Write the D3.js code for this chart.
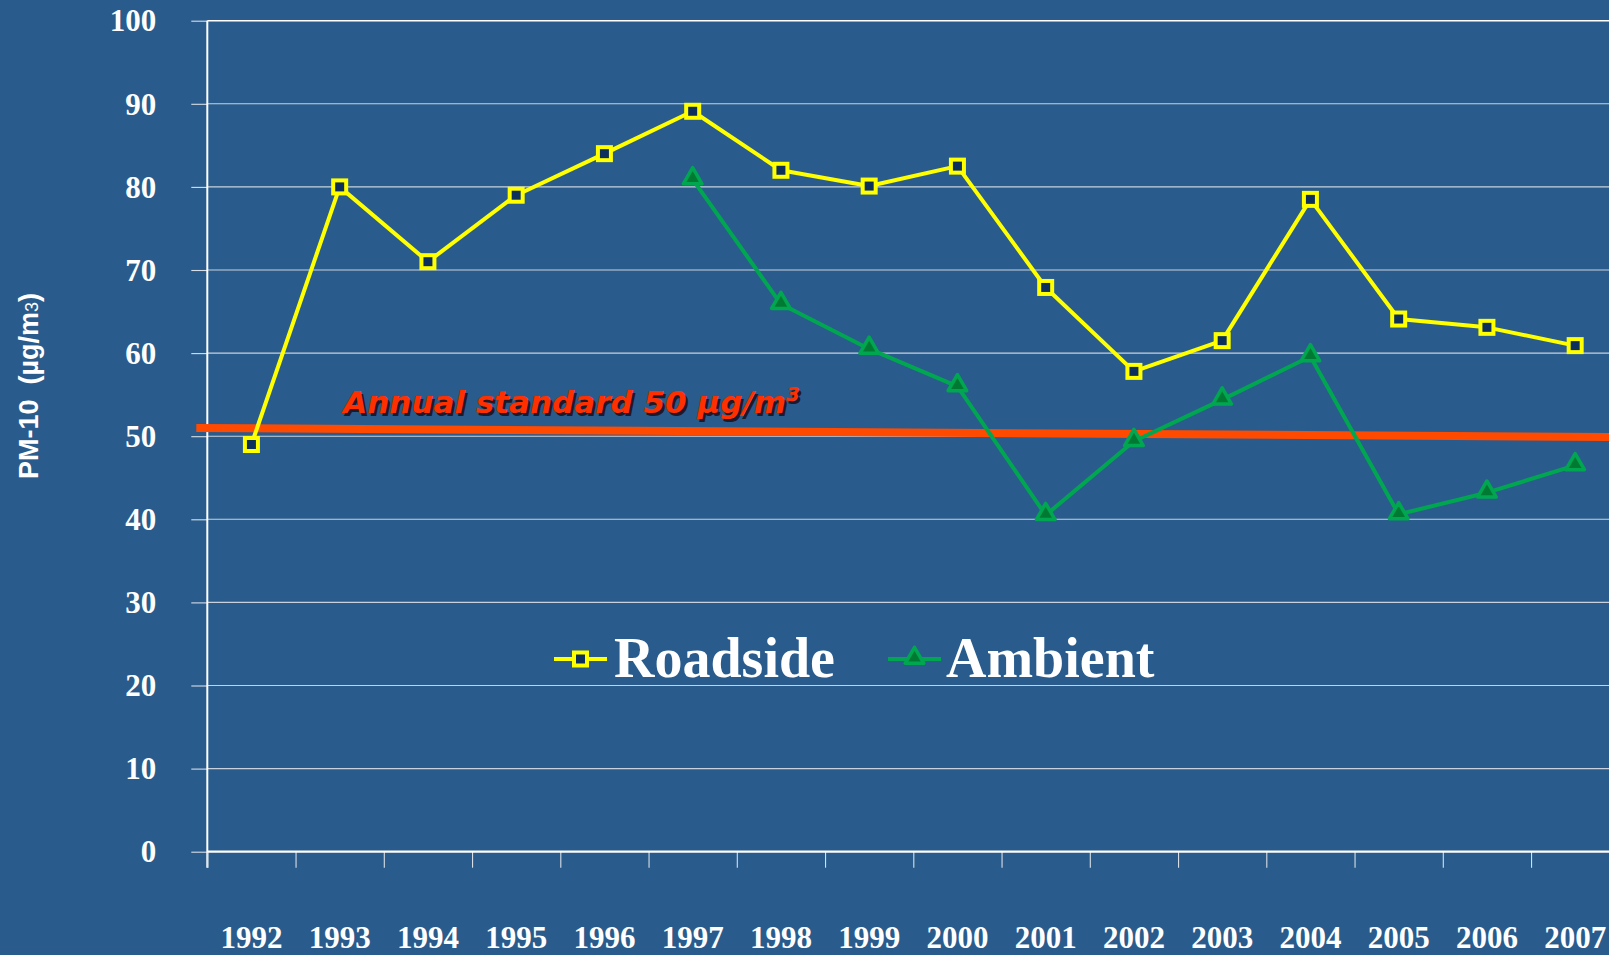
<!DOCTYPE html>
<html>
<head>
<meta charset="utf-8">
<script src="https://cdn.jsdelivr.net/npm/d3@7"></script>
<style>
  html, body { margin: 0; padding: 0; background: #295c8d; }
  svg { display: block; }
</style>
</head>
<body>
<svg id="chart"></svg>
<script>
var width = 1609;
var height = 955;

var years = [1992, 1993, 1994, 1995, 1996, 1997, 1998, 1999, 2000, 2001, 2002, 2003, 2004, 2005, 2006, 2007];
var roadside = [49.0, 80.0, 71.0, 79.0, 84.0, 89.1, 82.0, 80.1, 82.5, 67.9, 57.8, 61.5, 78.5, 64.1, 63.1, 60.9];
var ambient = [null, null, null, null, null, 80.9, 65.9, 60.5, 56.0, 40.5, 49.4, 54.4, 59.6, 40.6, 43.2, 46.5];
var yTicks = [0, 10, 20, 30, 40, 50, 60, 70, 80, 90, 100];
// the standard line in the original is drawn by hand and drifts a little
var standardEnds = [51.0, 49.9];
var standardLabel = "Annual standard 50 µg/m";

var series = [
  {name: "Roadside", values: roadside, color: "#ffff00", marker: "square"},
  {name: "Ambient", values: ambient, color: "#00a650", marker: "triangle"}
];

var svg = d3.select("#chart").attr("width", width).attr("height", height);

svg.append("rect").attr("width", width).attr("height", height).attr("fill", "#295c8d");

// plot runs off the right edge of the slide, as in the original
var x = d3.scaleBand().domain(years).range([207.3, 1619.3]).paddingInner(0).paddingOuter(0);
var xEdge = d3.scaleLinear().domain([0, years.length]).range([207.3, 1619.3]);
var y = d3.scaleLinear().domain([0, 100]).range([851.7, 20.7]);

// gridlines
svg.append("g")
  .selectAll("line")
  .data(yTicks.filter(function(d) { return d > 0; }))
  .enter().append("line")
    .attr("x1", 207.3)
    .attr("x2", width)
    .attr("y1", function(d) { return y(d); })
    .attr("y2", function(d) { return y(d); })
    .attr("stroke", function(d) { return d == 100 ? "#ffffff" : "#c9d2dc"; })
    .attr("stroke-width", function(d) { return d == 100 ? 1.6 : 1.1; });

// y axis
var yAxis = svg.append("g")
  .attr("transform", "translate(207.3,0)")
  .call(d3.axisLeft(y).tickValues(yTicks).tickSizeInner(16).tickSizeOuter(0).tickPadding(35));
yAxis.select(".domain").remove();
yAxis.selectAll(".tick line").attr("stroke", "#d8dee6").attr("stroke-width", 1.1);
yAxis.selectAll(".tick text")
  .attr("fill", "#ffffff")
  .attr("font-family", "'Liberation Serif', 'Times New Roman', serif")
  .attr("font-weight", "bold")
  .attr("font-size", 31)
  .attr("dy", "0.33em");

svg.append("line")
  .attr("x1", 207.3).attr("x2", 207.3)
  .attr("y1", y(100)).attr("y2", y(0) + 16)
  .attr("stroke", "#ffffff").attr("stroke-width", 2);

// x axis: ticks on category edges, labels in the middle
var xTickAxis = svg.append("g")
  .attr("transform", "translate(0," + y(0) + ")")
  .call(d3.axisBottom(xEdge).tickValues(d3.range(0, years.length + 1)).tickFormat("").tickSizeInner(16).tickSizeOuter(0));
xTickAxis.select(".domain").remove();
xTickAxis.selectAll(".tick line").attr("stroke", "#d8dee6").attr("stroke-width", 1.1);

svg.append("line")
  .attr("x1", 207.3).attr("x2", width)
  .attr("y1", y(0)).attr("y2", y(0))
  .attr("stroke", "#ffffff").attr("stroke-width", 2.2);

var xLabelAxis = svg.append("g")
  .attr("transform", "translate(0," + y(0) + ")")
  .call(d3.axisBottom(x).tickSize(0).tickPadding(96));
xLabelAxis.select(".domain").remove();
xLabelAxis.selectAll(".tick text")
  .attr("fill", "#ffffff")
  .attr("font-family", "'Liberation Serif', 'Times New Roman', serif")
  .attr("font-weight", "bold")
  .attr("font-size", 31)
  .attr("dy", "0em");

// y axis title
var yTitle = svg.append("text")
  .attr("transform", "translate(38,386) rotate(-90)")
  .attr("text-anchor", "middle")
  .attr("fill", "#ffffff")
  .attr("font-family", "'Liberation Sans', Arial, sans-serif")
  .attr("font-weight", "bold")
  .attr("font-size", 27)
  .attr("xml:space", "preserve");
yTitle.append("tspan").text("PM-10  (µg/m");
yTitle.append("tspan").attr("font-size", 18).attr("font-weight", "normal").text("3");
yTitle.append("tspan").text(")");

// annual standard line
svg.append("line")
  .attr("x1", xEdge(0) - 11)
  .attr("x2", width)
  .attr("y1", y(standardEnds[0]))
  .attr("y2", y(standardEnds[1]))
  .attr("stroke", "#ff4a00")
  .attr("stroke-width", 8);

function drawStandardLabel(dx, dy, fill) {
  var t = svg.append("text")
    .attr("x", xEdge(0) + 136 + dx)
    .attr("y", 413 + dy)
    .attr("fill", fill)
    .attr("font-family", "'DejaVu Sans', Verdana, sans-serif")
    .attr("font-weight", "bold")
    .attr("font-style", "italic")
    .attr("font-size", 31);
  t.append("tspan").text(standardLabel);
  t.append("tspan").attr("font-size", 20).attr("dy", -12).text("3");
}
drawStandardLabel(2.5, 2.5, "#1e1a2a");
drawStandardLabel(0, 0, "#ff3000");

// series lines
var line = d3.line()
  .defined(function(d) { return d.v != null; })
  .x(function(d) { return x(d.year) + x.bandwidth() / 2; })
  .y(function(d) { return y(d.v); });

var triangle = d3.symbol().type(d3.symbolTriangle).size(150);

function drawMarker(g, s) {
  if (s.marker == "square") {
    g.append("rect")
      .attr("x", -6.5).attr("y", -6.5).attr("width", 13).attr("height", 13)
      .attr("fill", "#0c2f5c").attr("stroke", s.color).attr("stroke-width", 4);
  } else {
    g.append("path")
      .attr("d", triangle)
      .attr("transform", "translate(0,-1)")
      .attr("fill", "#007a32").attr("stroke", s.color).attr("stroke-width", 3.5)
      .attr("stroke-linejoin", "round");
  }
}

series.forEach(function(s) {
  var pts = years.map(function(yr, i) { return {year: yr, v: s.values[i]}; });
  svg.append("path")
    .datum(pts)
    .attr("d", line)
    .attr("fill", "none")
    .attr("stroke", s.color)
    .attr("stroke-width", 4)
    .attr("stroke-linejoin", "round");

  svg.append("g").selectAll("g")
    .data(pts.filter(function(d) { return d.v != null; }))
    .enter().append("g")
      .attr("transform", function(d) {
        return "translate(" + (x(d.year) + x.bandwidth() / 2) + "," + y(d.v) + ")";
      })
      .each(function() { drawMarker(d3.select(this), s); });
});

// legend
var legendItems = [
  {s: series[0], lineX: 554, textX: 614},
  {s: series[1], lineX: 888, textX: 946}
];
var legendY = 659;
legendItems.forEach(function(item) {
  var s = item.s;
  svg.append("line")
    .attr("x1", item.lineX).attr("x2", item.lineX + 53)
    .attr("y1", legendY).attr("y2", legendY)
    .attr("stroke", s.color).attr("stroke-width", 4);
  var mk = svg.append("g").attr("transform", "translate(" + (item.lineX + 26.5) + "," + legendY + ")");
  drawMarker(mk, s);
  svg.append("text")
    .attr("x", item.textX)
    .attr("y", legendY + 18)
    .attr("fill", "#ffffff")
    .attr("font-family", "'Liberation Serif', 'Times New Roman', serif")
    .attr("font-weight", "bold")
    .attr("font-size", 56)
    .text(s.name);
});
</script>
</body>
</html>
